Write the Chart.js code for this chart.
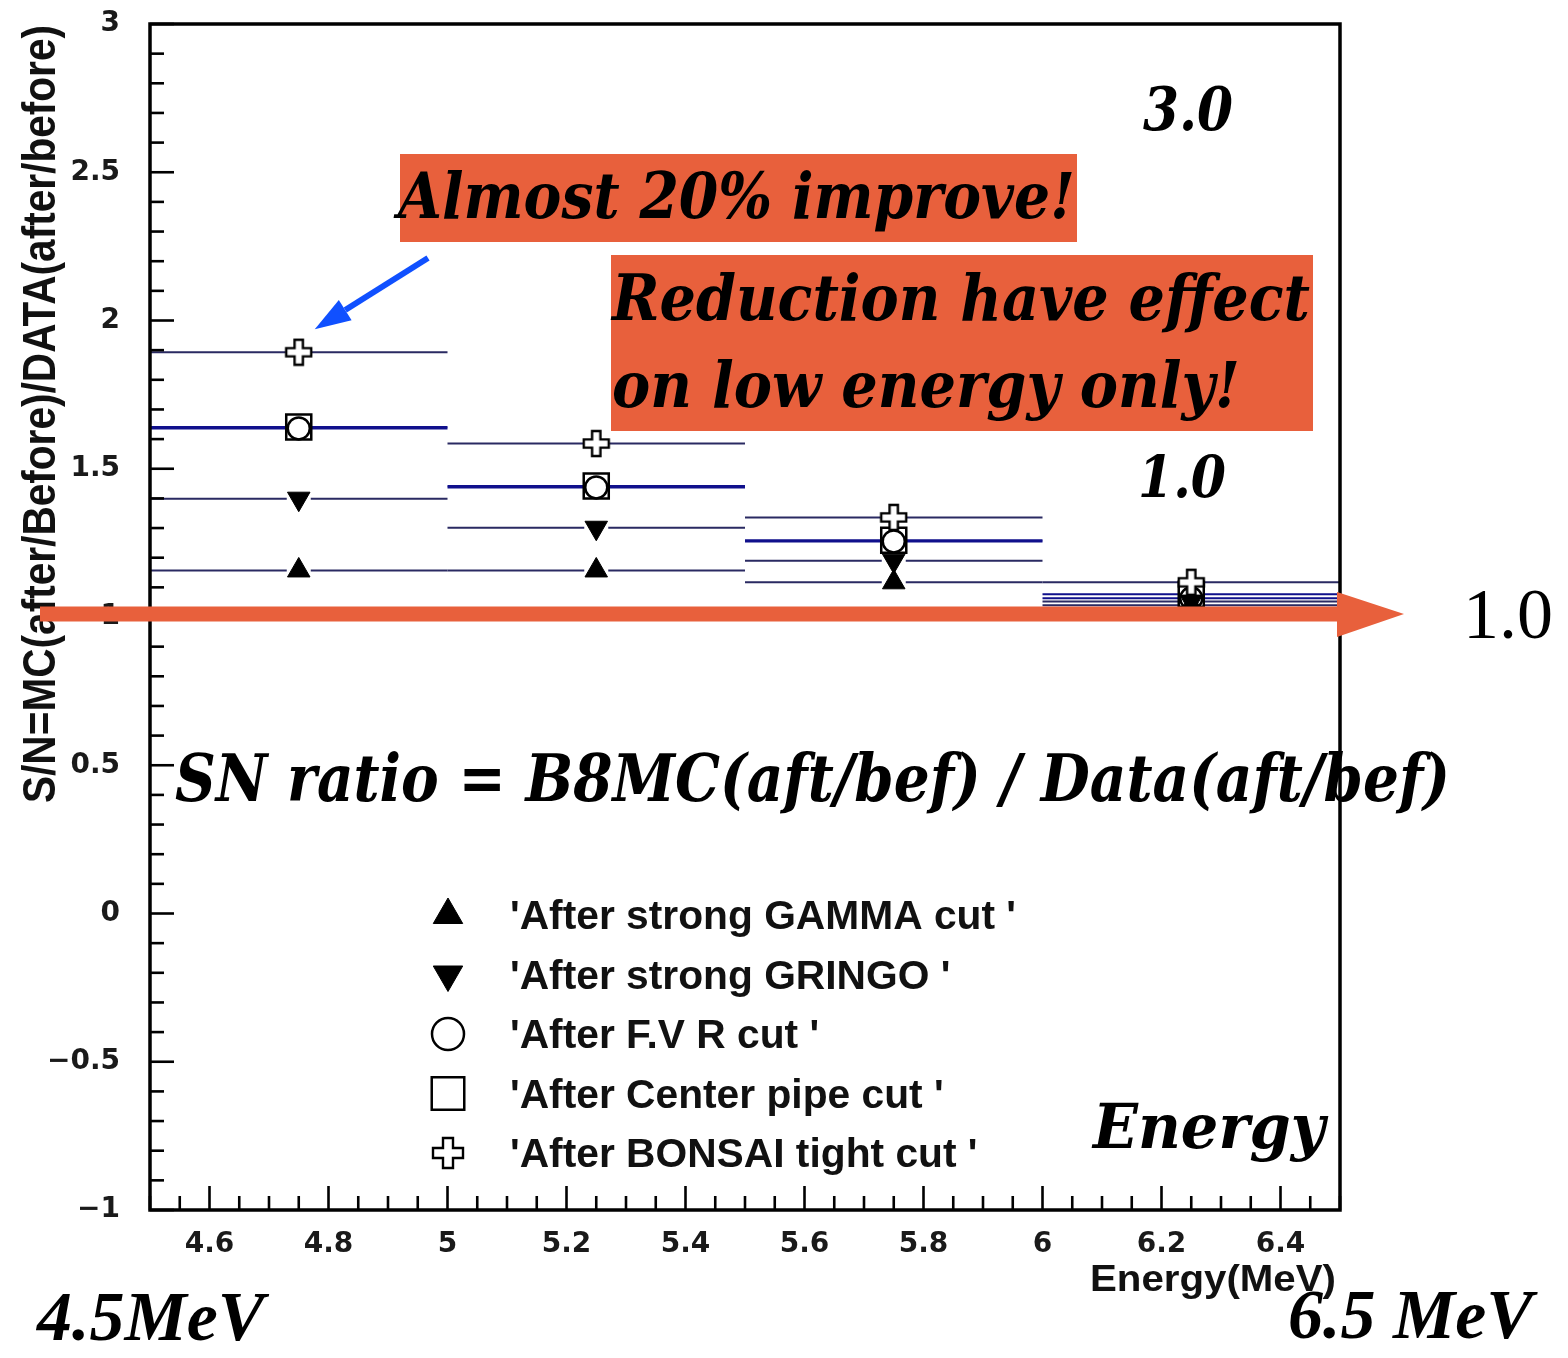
<!DOCTYPE html>
<html>
<head>
<meta charset="utf-8">
<title>S/N ratio vs energy</title>
<script src="https://cdn.jsdelivr.net/npm/chart.js@4.4.1/dist/chart.umd.min.js"></script>
<style>
  html, body { margin: 0; padding: 0; background: #fff; }
  canvas { display: block; }
</style>
</head>
<body>
<canvas id="snChart" width="1568" height="1358"></canvas>
<script>
// energy bins (MeV)
const binLow = [4.5, 5.0, 5.5, 6.0];
const binHigh = [5.0, 5.5, 6.0, 6.5];
const binCenter = [4.75, 5.25, 5.75, 6.25];

// S/N ratio after each reduction step, one value per bin
const gammaCut = [1.157, 1.157, 1.117, 1.040];
const gringoCut = [1.399, 1.301, 1.190, 1.052];
const fvrCut = [1.636, 1.437, 1.255, 1.063];
const pipeCut = [1.641, 1.442, 1.259, 1.077];
const bonsaiCut = [1.893, 1.585, 1.336, 1.117];

const seriesNames = [
	"'After strong GAMMA cut '",
	"'After strong GRINGO '",
	"'After F.V R cut '",
	"'After Center pipe cut '",
	"'After BONSAI tight cut '"
];

const xTickValues = [4.6, 4.8, 5.0, 5.2, 5.4, 5.6, 5.8, 6.0, 6.2, 6.4];
const xTickLabels = ['4.6', '4.8', '5', '5.2', '5.4', '5.6', '5.8', '6', '6.2', '6.4'];
const yTickValues = [-1, -0.5, 0, 0.5, 1, 1.5, 2, 2.5, 3];
const yTickLabels = ['\u22121', '\u22120.5', '0', '0.5', '1', '1.5', '2', '2.5', '3'];

const ORANGE = '#e8603c';
const serifBI = (s) => `bold italic ${s}px "DejaVu Serif"`;

// open "plus" marker, white inside with a black outline
function makePlus(size) {
	const c = document.createElement('canvas');
	c.width = size + 4;
	c.height = size + 4;
	const g = c.getContext('2d');
	const o = 2, a = size / 3;
	g.beginPath();
	g.moveTo(o + a, o);
	g.lineTo(o + 2 * a, o);
	g.lineTo(o + 2 * a, o + a);
	g.lineTo(o + size, o + a);
	g.lineTo(o + size, o + 2 * a);
	g.lineTo(o + 2 * a, o + 2 * a);
	g.lineTo(o + 2 * a, o + size);
	g.lineTo(o + a, o + size);
	g.lineTo(o + a, o + 2 * a);
	g.lineTo(o, o + 2 * a);
	g.lineTo(o, o + a);
	g.lineTo(o + a, o + a);
	g.closePath();
	g.fillStyle = '#fff';
	g.fill();
	g.lineWidth = 2.4;
	g.strokeStyle = '#000';
	g.stroke();
	return c;
}

const plusSmall = makePlus(25);
const plusLegend = makePlus(30);

function toPoints(values) {
	return values.map((v, i) => ({ x: binCenter[i], y: v, xMin: binLow[i], xMax: binHigh[i] }));
}

// draw text squeezed/stretched to a given width
function fitText(ctx, text, x, y, width, font) {
	ctx.save();
	ctx.font = font;
	ctx.textAlign = 'left';
	ctx.textBaseline = 'alphabetic';
	const w = ctx.measureText(text).width;
	ctx.translate(x, y);
	ctx.scale(width / w, 1);
	ctx.fillText(text, 0, 0);
	ctx.restore();
}

const datasets = [
	{
		label: seriesNames[0], data: toPoints(gammaCut), order: 4,
		pointStyle: 'triangle', pointRadius: 13, pointRotation: 0,
		backgroundColor: '#000', borderColor: '#000', borderWidth: 1,
		barColor: '#2a2a62', barWidth: 2, barGap: 12, legendRadius: 17
	},
	{
		label: seriesNames[1], data: toPoints(gringoCut), order: 3,
		pointStyle: 'triangle', pointRadius: 13, pointRotation: 180,
		backgroundColor: '#000', borderColor: '#000', borderWidth: 1,
		barColor: '#2a2a62', barWidth: 2, barGap: 12, legendRadius: 17
	},
	{
		label: seriesNames[2], data: toPoints(fvrCut), order: 2,
		pointStyle: 'circle', pointRadius: 11, pointRotation: 0,
		backgroundColor: 'rgba(0,0,0,0)', borderColor: '#000', borderWidth: 2.5,
		barColor: '#10108c', barWidth: 2, barGap: 12, legendRadius: 16
	},
	{
		label: seriesNames[3], data: toPoints(pipeCut), order: 1,
		pointStyle: 'rect', pointRadius: 17.7, pointRotation: 0,
		backgroundColor: 'rgba(0,0,0,0)', borderColor: '#000', borderWidth: 2.5,
		barColor: '#10108c', barWidth: 2, barGap: 12, legendRadius: 23
	},
	{
		label: seriesNames[4], data: toPoints(bonsaiCut), order: 0,
		pointStyle: plusSmall, pointRadius: 13, pointRotation: 0,
		backgroundColor: '#fff', borderColor: '#000', borderWidth: 2,
		barColor: '#2a2a62', barWidth: 2, barGap: 13, legendStyle: plusLegend
	}
];

// ROOT-like frame with inward ticks, and horizontal bin-width bars
const rootFrame = {
	id: 'rootFrame',
	beforeDatasetsDraw(chart) {
		const { ctx, chartArea: a, scales: { x, y } } = chart;
		ctx.save();
		chart.data.datasets.forEach((ds) => {
			ctx.strokeStyle = ds.barColor;
			ctx.lineWidth = ds.barWidth;
			ds.data.forEach((p) => {
				const px = x.getPixelForValue(p.x);
				const py = y.getPixelForValue(p.y);
				ctx.beginPath();
				ctx.moveTo(x.getPixelForValue(p.xMin), py);
				ctx.lineTo(px - ds.barGap, py);
				ctx.moveTo(px + ds.barGap, py);
				ctx.lineTo(x.getPixelForValue(p.xMax), py);
				ctx.stroke();
			});
		});

		ctx.strokeStyle = '#000';
		ctx.lineWidth = 2.6;
		for (let i = 0; i <= 40; i++) {
			const py = y.getPixelForValue(-1 + i * 0.1);
			const len = i % 5 === 0 ? 24 : 14;
			ctx.beginPath();
			ctx.moveTo(a.left, py);
			ctx.lineTo(a.left + len, py);
			ctx.stroke();
		}
		for (let i = 0; i <= 40; i++) {
			const px = x.getPixelForValue(4.5 + i * 0.05);
			const len = (i - 2) % 4 === 0 ? 24 : 14;
			ctx.beginPath();
			ctx.moveTo(px, a.bottom);
			ctx.lineTo(px, a.bottom - len);
			ctx.stroke();
		}
		ctx.lineWidth = 3.5;
		ctx.strokeRect(a.left, a.top, a.right - a.left, a.bottom - a.top);
		ctx.restore();
	},
	afterDraw(chart) {
		const { ctx, scales: { x, y } } = chart;
		ctx.save();

		// axis titles
		ctx.fillStyle = '#111';
		ctx.save();
		ctx.translate(55, 803);
		ctx.rotate(-Math.PI / 2);
		fitText(ctx, 'S/N=MC(after/Before)/DATA(after/before)', 0, 0, 778, 'bold 46px "Liberation Sans"');
		ctx.restore();
		fitText(ctx, 'Energy(MeV)', 1090, 1291, 246, 'bold 36px "Liberation Sans"');

		// legend
		const legendX = 448, legendTextX = 510, rowTop = 915, rowStep = 59.5;
		ctx.font = 'bold 40px "Liberation Sans"';
		const squeeze = 506 / ctx.measureText(seriesNames[0]).width;
		chart.data.datasets.forEach((ds, i) => {
			const cy = rowTop + i * rowStep;
			ctx.fillStyle = ds.backgroundColor;
			ctx.strokeStyle = ds.borderColor;
			ctx.lineWidth = ds.borderWidth;
			Chart.helpers.drawPoint(ctx, {
				pointStyle: ds.legendStyle || ds.pointStyle,
				radius: ds.legendRadius || ds.pointRadius,
				rotation: ds.pointRotation,
				borderWidth: ds.borderWidth
			}, legendX, cy);
			ctx.fillStyle = '#111';
			ctx.font = 'bold 40px "Liberation Sans"';
			const w = ctx.measureText(ds.label).width * squeeze;
			fitText(ctx, ds.label, legendTextX, cy + 14, w, 'bold 40px "Liberation Sans"');
		});

		// callout boxes
		ctx.fillStyle = ORANGE;
		ctx.fillRect(400, 154, 677, 88);
		ctx.fillRect(611, 255, 702, 176);
		ctx.fillStyle = '#000';
		fitText(ctx, 'Almost 20% improve!', 398, 218, 677, serifBI(64));
		fitText(ctx, 'Reduction have effect', 612, 320, 698, serifBI(64));
		fitText(ctx, 'on low energy only!', 612, 407, 628, serifBI(64));
		fitText(ctx, '3.0', 1143, 130, 90, serifBI(60));
		fitText(ctx, '1.0', 1138, 497, 88, serifBI(58));
		fitText(ctx, 'SN ratio = B8MC(aft/bef) / Data(aft/bef)', 175, 801, 1275, serifBI(66));
		fitText(ctx, 'Energy', 1093, 1148, 232, serifBI(62));

		ctx.font = 'bold italic 70px "Liberation Serif"';
		ctx.textBaseline = 'alphabetic';
		ctx.textAlign = 'left';
		ctx.fillText('4.5MeV', 37, 1340);
		ctx.fillText('6.5 MeV', 1288, 1338);

		// arrow to the BONSAI point in the lowest bin
		const tipX = x.getPixelForValue(binCenter[0]) + 16;
		const tipY = y.getPixelForValue(bonsaiCut[0]) - 23;
		const sx = 428, sy = 258;
		const dx = tipX - sx, dy = tipY - sy, len = Math.hypot(dx, dy);
		const ux = dx / len, uy = dy / len;
		const bx = tipX - ux * 36, by = tipY - uy * 36;
		ctx.strokeStyle = '#1050ff';
		ctx.fillStyle = '#1050ff';
		ctx.lineWidth = 6;
		ctx.beginPath();
		ctx.moveTo(sx, sy);
		ctx.lineTo(bx, by);
		ctx.stroke();
		ctx.beginPath();
		ctx.moveTo(tipX, tipY);
		ctx.lineTo(bx - uy * 12, by + ux * 12);
		ctx.lineTo(bx + uy * 12, by - ux * 12);
		ctx.closePath();
		ctx.fill();

		// reference arrow at S/N = 1
		const ay = y.getPixelForValue(1) - 3;
		ctx.fillStyle = ORANGE;
		ctx.fillRect(40, ay - 7.5, 1300, 15);
		ctx.beginPath();
		ctx.moveTo(1337, ay - 22);
		ctx.lineTo(1404, ay);
		ctx.lineTo(1337, ay + 23);
		ctx.closePath();
		ctx.fill();
		ctx.fillStyle = '#000';
		ctx.font = '72px "Liberation Serif"';
		ctx.fillText('1.0', 1463, 638);

		ctx.restore();
	}
};

const tickFont = { family: 'DejaVu Sans', weight: 'bold', size: 28 };

new Chart(document.getElementById('snChart'), {
	type: 'scatter',
	data: { datasets },
	options: {
		responsive: false,
		animation: false,
		devicePixelRatio: 1,
		layout: { padding: { top: 24, right: 228, left: 0, bottom: 0 } },
		plugins: { legend: { display: false }, tooltip: { enabled: false } },
		scales: {
			x: {
				type: 'linear', min: 4.5, max: 6.5,
				grid: { display: false }, border: { display: false },
				afterBuildTicks: (s) => { s.ticks = xTickValues.map((value) => ({ value })); },
				afterFit: (s) => {
					s.height = 148;
					s.paddingLeft = 0;
					s.paddingRight = 0;
				},
				ticks: {
					autoSkip: false, maxRotation: 0, padding: 10, color: '#1a1a1a', font: tickFont,
					callback: (v, i) => xTickLabels[i]
				}
			},
			y: {
				type: 'linear', min: -1, max: 3,
				grid: { display: false }, border: { display: false },
				afterBuildTicks: (s) => { s.ticks = yTickValues.map((value) => ({ value })); },
				afterFit: (s) => {
					s.width = 150;
					s.paddingTop = 0;
					s.paddingBottom = 0;
				},
				ticks: {
					autoSkip: false, padding: 22, color: '#1a1a1a', font: tickFont,
					callback: (v, i) => yTickLabels[i]
				}
			}
		}
	},
	plugins: [rootFrame]
});
</script>
</body>
</html>
